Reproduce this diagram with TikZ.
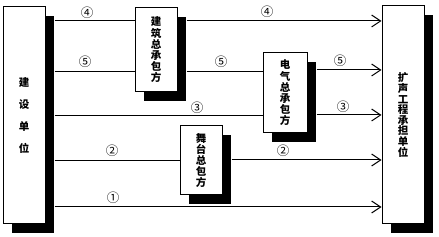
\documentclass[tikz,border=0pt]{standalone}
\usepackage{fontspec}
\newfontfamily\cjk{Noto Sans CJK SC}
\usetikzlibrary{arrows.meta,shadows}
\tikzset{
  box/.style={draw=black, line width=1pt, fill=white, inner sep=0pt, align=center,
    font=\cjk\bfseries\fontsize{10.5pt}{11.2pt}\selectfont,
    drop shadow={shadow xshift=9pt, shadow yshift=-9pt, fill=black, opacity=1}},
  conn/.style={line width=1pt, draw=black},
  arr/.style={conn, -{Straight Barb[length=9pt,width=12pt,line width=1pt]}},
  lab/.style={font=\cjk\fontsize{12.5pt}{12.5pt}\selectfont, inner sep=0pt}
}
\begin{document}
\begin{tikzpicture}[x=1pt,y=-1pt]
\useasboundingbox (0,0) rectangle (439,237);
\node[box, minimum width=42pt, minimum height=217pt, font=\cjk\bfseries\fontsize{10.5pt}{22pt}\selectfont] (L) at (24,115.5) {建\\设\\单\\位};
\node[box, minimum width=42pt, minimum height=84pt] (A) at (156,50) {建\\筑\\总\\承\\包\\方};
\node[box, minimum width=44pt, minimum height=80pt] (B) at (285,93) {电\\气\\总\\承\\包\\方};
\node[box, minimum width=42pt, minimum height=69pt] (C) at (201,160.5) {舞\\台\\总\\包\\方};
\node[box, minimum width=42pt, minimum height=218pt, font=\cjk\bfseries\fontsize{10.5pt}{10.6pt}\selectfont] (R) at (403,115) {扩\\声\\工\\程\\承\\担\\单\\位};
% shadow edges
\coordinate (Ls) at ([xshift=9pt]L.east);
\coordinate (As) at ([xshift=9pt]A.east);
\coordinate (Bs) at ([xshift=9pt]B.east);
\coordinate (Cs) at ([xshift=9pt]C.east);
% line 4
\draw[conn] (Ls |- 0,21) -- (A.west |- 0,21);
\draw[arr] (As |- 0,21) -- (R.west |- 0,21);
% line 5
\draw[conn] (Ls |- 0,72) -- (A.west |- 0,72);
\draw[conn] (As |- 0,72) -- (B.west |- 0,72);
\draw[arr] (Bs |- 0,70) -- (R.west |- 0,70);
% line 3
\draw[conn] (Ls |- 0,116) -- (B.west |- 0,116);
\draw[arr] (Bs |- 0,115) -- (R.west |- 0,115);
% line 2
\draw[conn] (Ls |- 0,161) -- (C.west |- 0,161);
\draw[arr] (Cs |- 0,160) -- (R.west |- 0,160);
% line 1
\draw[arr] (Ls |- 0,207) -- (R.west |- 0,207);
% labels
\node[lab] (l4a) at (87,13) {④};
\node[lab] (l4b) at (267,12) {④};
\node[lab] (l5a) at (85,62) {⑤};
\node[lab] (l5b) at (221,62) {⑤};
\node[lab] (l5c) at (340,61) {⑤};
\node[lab] (l3a) at (197,108) {③};
\node[lab] (l3b) at (343,107) {③};
\node[lab] (l2a) at (112,151) {②};
\node[lab] (l2b) at (283,151) {②};
\node[lab] (l1) at (113,198) {①};
\end{tikzpicture}
\end{document}
